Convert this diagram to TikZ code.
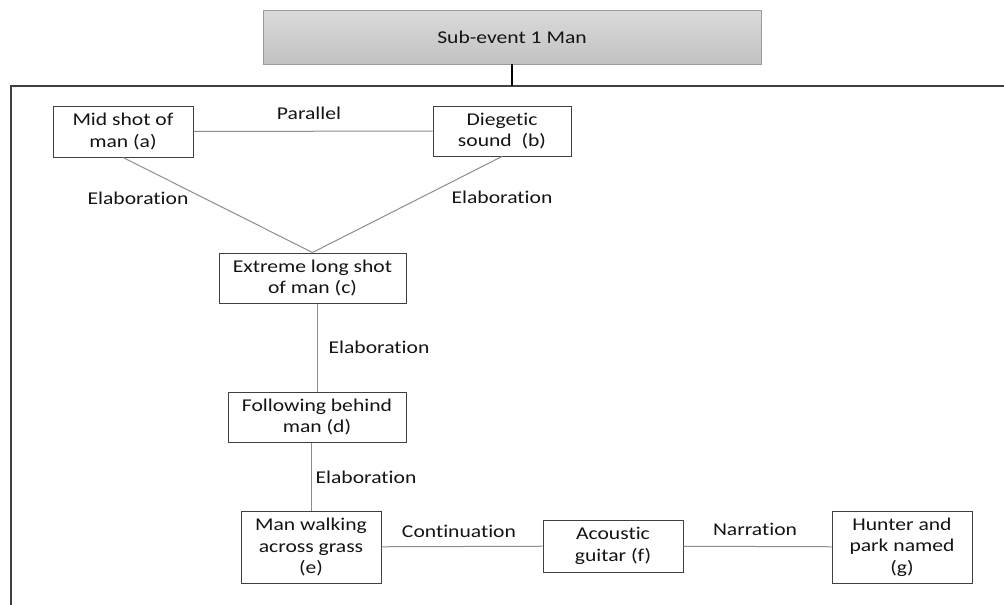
\documentclass[tikz,border=0pt]{standalone}
\usepackage{fontspec}
\setmainfont{Carlito}[FakeStretch=1.2, Ligatures={NoCommon}]
\usepackage{tikz}
\usetikzlibrary{positioning}
\definecolor{evink}{HTML}{141414}
\definecolor{evline}{HTML}{404040}
\definecolor{evlink}{HTML}{8C8C8C}
\definecolor{evtop}{HTML}{DADADA}
\definecolor{evbot}{HTML}{C2C2C2}

\begin{document}
\begin{tikzpicture}[
      x=1pt, y=-1pt,
      every node/.style={font=\fontsize{18}{21.7}\selectfont, text=evink},
      shot/.style={draw=evline, line width=1pt, fill=white, align=center, inner sep=0pt},
      head/.style={draw=evbot!80!black, line width=0.6pt, top color=evtop, bottom color=evbot,
                 minimum width=498pt, minimum height=54pt, inner sep=0pt},
      link/.style={draw=evlink, line width=1pt},
      rel/.style={inner sep=0pt},
      frame/.style={draw=evline, line width=1.6pt}]
    \useasboundingbox (0,0) rectangle (1004,605);
    % header and the frame round the sub-event
    \node[head] (sub) at (512,37) {Sub-event 1 Man};
    \coordinate (ftop) at (512,86);
    \draw[frame] (1004,86) -- (11,86) -- (11,606);
    \draw[line width=2.6pt, black] (sub.south) -- (ftop);
    % shots
    \node[shot, minimum width=140pt, minimum height=51pt] (a) at (123,131.5) {Mid shot of\\man (a)};
    \node[shot, minimum width=138pt, minimum height=50pt] (b) at (502,131) {Diegetic\\sound~ (b)};
    \node[shot, minimum width=187pt, minimum height=50pt] (c) at (312.5,278) {Extreme long shot\\of man (c)};
    \node[shot, minimum width=178pt, minimum height=50pt] (d) at (317,417) {Following behind\\man (d)};
    \node[shot, minimum width=140pt, minimum height=72pt] (e) at (311,547) {Man walking\\across grass\\(e)};
    \node[shot, minimum width=140pt, minimum height=52pt] (f) at (613,546) {Acoustic\\guitar (f)};
    \node[shot, minimum width=140pt, minimum height=72pt] (g) at (902,547) {Hunter and\\park named\\(g)};
    % relations
    \draw[link] (a) -- (b);
    \draw[link] (a.south) -- (c.north);
    \draw[link] (b.south) -- (c.north);
    \draw[link] (d.north |- c.south) -- (d.north);
    \draw[link] (e.north |- d.south) -- (e.north);
    \draw[link] (e) -- (f);
    \draw[link] (f) -- (g);
    \node[rel] (lab-ab) at (309,113) {Parallel};
    \node[rel] (lab-ac) at (138,198) {Elaboration};
    \node[rel] (lab-bc) at (502,197) {Elaboration};
    \node[rel] (lab-cd) at (379,347) {Elaboration};
    \node[rel] (lab-de) at (366,477) {Elaboration};
    \node[rel] (lab-ef) at (459,531) {Continuation};
    \node[rel] (lab-fg) at (755,529) {Narration};
  \end{tikzpicture}
\end{document}
